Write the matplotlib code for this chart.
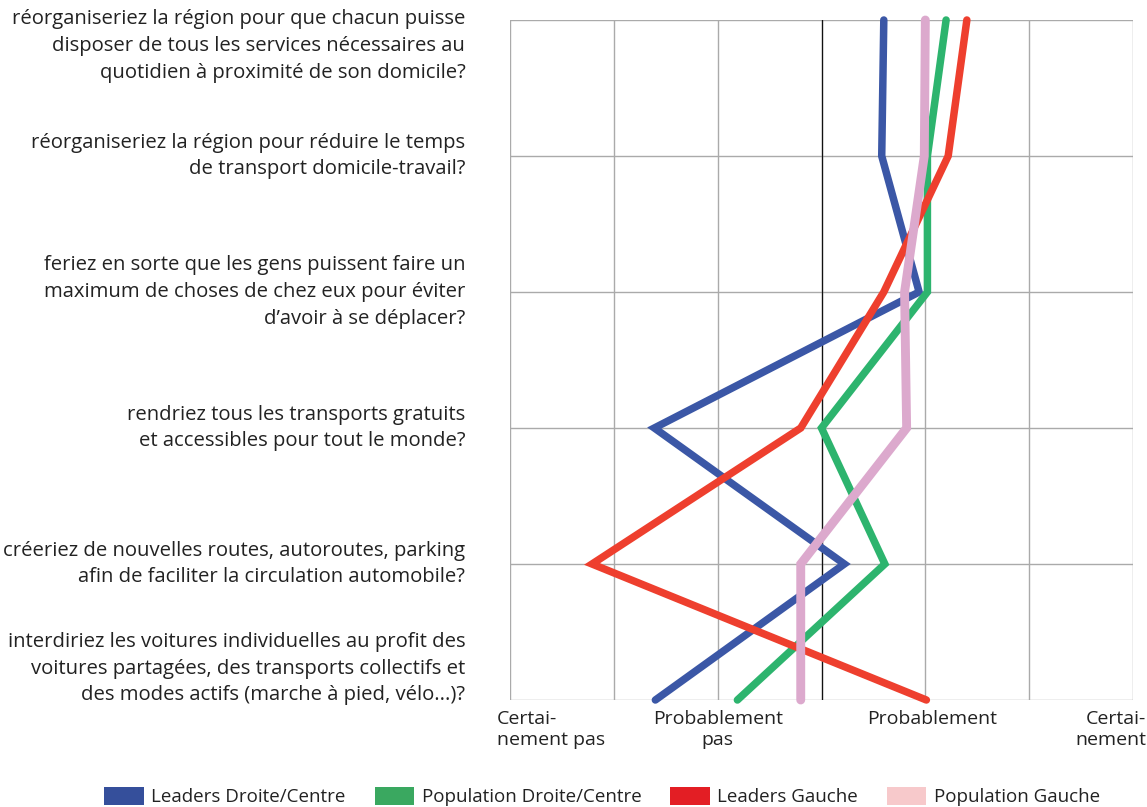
import matplotlib
matplotlib.use("Agg")
import matplotlib.pyplot as plt
from matplotlib.patches import Patch

plt.rcParams["font.family"] = ["Open Sans", "DejaVu Sans"]

questions = [
    "réorganiseriez la région pour que chacun puisse\ndisposer de tous les services nécessaires au\nquotidien à proximité de son domicile?",
    "réorganiseriez la région pour réduire le temps\nde transport domicile-travail?",
    "feriez en sorte que les gens puissent faire un\nmaximum de choses de chez eux pour éviter\nd\u2019avoir à se déplacer?",
    "rendriez tous les transports gratuits\net accessibles pour tout le monde?",
    "créeriez de nouvelles routes, autoroutes, parking\nafin de faciliter la circulation automobile?",
    "interdiriez les voitures individuelles au profit des\nvoitures partagées, des transports collectifs et\ndes modes actifs (marche à pied, vélo...)?",
]
scale_labels = ["Certai-\nnement pas", "Probablement\npas", "Probablement", "Certai-\nnement"]

leaders_droite = [3.60, 3.58, 3.94, 1.39, 3.22, 1.40]
population_droite = [4.20, 4.02, 4.02, 3.00, 3.61, 2.19]
leaders_gauche = [4.40, 4.22, 3.60, 2.80, 0.79, 4.01]
population_gauche = [4.00, 3.99, 3.80, 3.82, 2.80, 2.80]

series = [
    ("Leaders Droite/Centre", leaders_droite, "#3B57A6", "#354F9B"),
    ("Population Droite/Centre", population_droite, "#2DB46E", "#3AA860"),
    ("Leaders Gauche", leaders_gauche, "#EE3F2E", "#E31E24"),
    ("Population Gauche", population_gauche, "#DCA9CD", "#F7C9CB"),
]

fig = plt.figure(figsize=(11.47, 8.07), dpi=100)
ax = fig.add_axes([510/1147, 1-700/807, 623/1147, 680/807])
rows = list(range(len(questions)))

for xv in range(7):
    ax.axvline(xv, color="#aaaaaa", lw=1.0, zorder=1)
for r in rows:
    ax.axhline(r, color="#aaaaaa", lw=1.0, zorder=1)
ax.axvline(3, color="#111111", lw=0.9, zorder=1.5)

for i, (name, vals, col, _) in enumerate(series):
    lw = 6.4 if i == 3 else 5.4
    ax.plot(vals, rows, color=col, lw=lw, solid_capstyle="round",
            solid_joinstyle="miter", clip_on=False, zorder=3 + i)

ax.set_xlim(0, 6)
ax.set_ylim(5, 0)
ax.set_xticks([])
ax.set_yticks([])
for s in ax.spines.values():
    s.set_visible(False)

txt = "#222222"
fs = 14.6
for r, q in zip(rows, questions):
    va = "center"
    yv = r
    if r == 0:
        va = "top"
        yv = -0.08
    elif r == len(questions) - 1:
        va = "bottom"
        yv = 5.04
    ax.text(-0.43, yv, q, ha="right", va=va, fontsize=fs, color=txt,
            linespacing=1.45, fontweight="medium", clip_on=False)

label_x = [-0.13, 2.0, 4.07, 6.13]
label_ha = ["left", "center", "center", "right"]
for xv, ha, lab in zip(label_x, label_ha, scale_labels):
    ax.text(xv, 5.07, lab, ha=ha, va="top", fontsize=14, color=txt,
            linespacing=1.22, multialignment=ha, fontweight="medium",
            clip_on=False)

handles = [Patch(facecolor=s[3], edgecolor="none", label=s[0]) for s in series]
fig.legend(handles=handles, loc="center", bbox_to_anchor=(0.525, 0.013),
           ncol=4, frameon=False, fontsize=13.5, handlelength=2.1,
           handleheight=1.1, handletextpad=0.4, columnspacing=1.55,
           labelcolor=txt, borderpad=0.1)

fig.savefig("out.png", dpi=100)
